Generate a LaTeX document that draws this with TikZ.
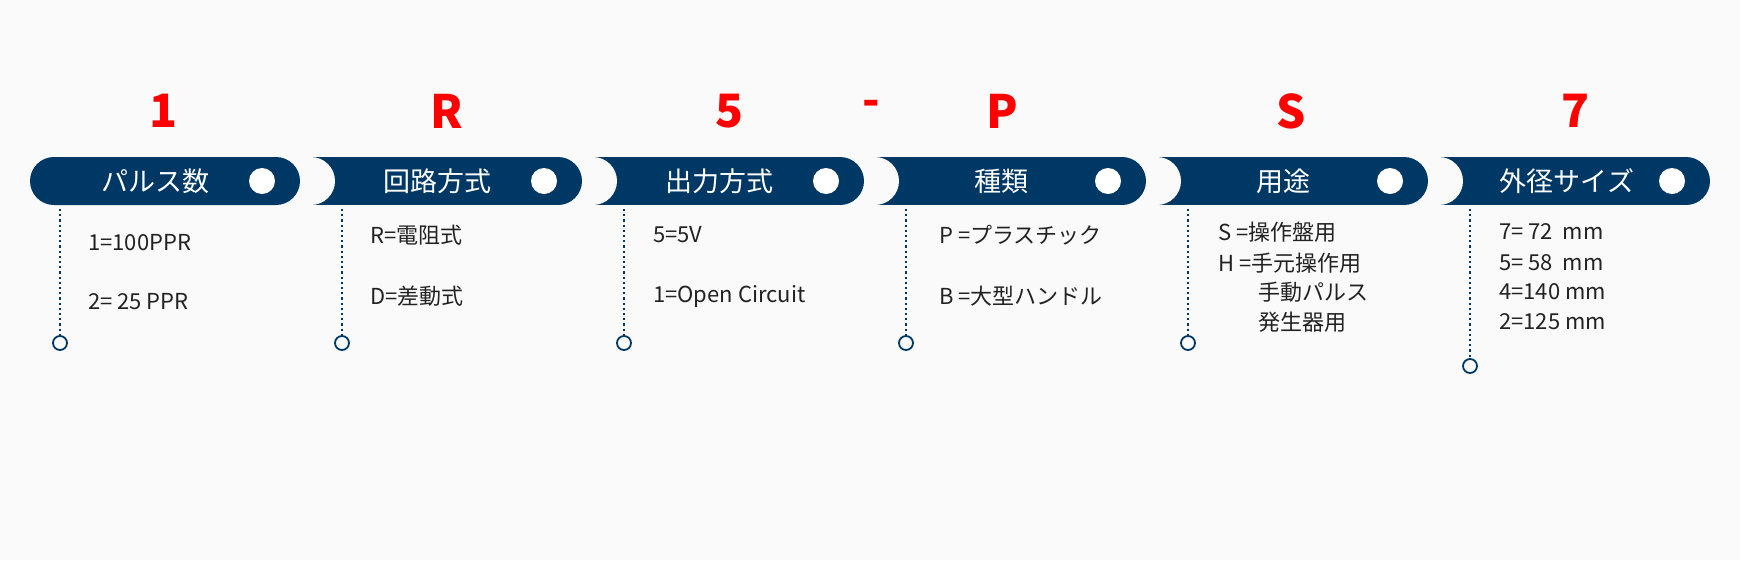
\documentclass[tikz,border=0pt]{standalone}
\usepackage{fontspec}
\setmainfont{Noto Sans CJK JP}
\definecolor{bg}{HTML}{FAFAFA}
\definecolor{navy}{HTML}{003865}
\definecolor{tx}{HTML}{222222}
\begin{document}
\begin{tikzpicture}[x=1pt,y=-1pt,
  red/.style={text=red,font=\fontsize{46}{46}\selectfont\bfseries,inner sep=0},
  lbl/.style={text=white,font=\fontsize{27}{27}\selectfont,inner sep=0},
  item/.style={text=tx,font=\fontsize{22}{24}\selectfont,inner sep=0,anchor=west},
  dotl/.style={draw=navy,line width=1.8pt,dash pattern=on 2.2pt off 3pt},
  endc/.style={circle,draw=navy,line width=1.8pt,fill=bg,minimum size=14pt,inner sep=0}]
\fill[bg] (0,0) rectangle (1740,560);
\useasboundingbox (0,0) rectangle (1740,560);
% pills drawn in reverse order
\foreach \i in {6,5,4,3,2,1}{
  \pgfmathsetmacro\R{300+282*(\i-1)}
  \pgfmathsetmacro\L{\i==1 ? 30 : \R-271}
  \ifnum\i=1
    \fill[navy,rounded corners=24pt] (\L,157) rectangle (\R,205);
  \else
    \fill[navy] (\L+24,157) rectangle (\R-24,205);
    \fill[navy] (\R-24,181) circle (24);
    \fill[navy] (\L,157) rectangle (\L+30,205);
    \fill[bg] (\L,181) circle (24);
  \fi
  \fill[white] (\R-38,181) circle (13);
}
% labels
\node[lbl] (l1) at (155,181) {パルス数};
\node[lbl] (l2) at (437,181) {回路方式};
\node[lbl] (l3) at (719,181) {出力方式};
\node[lbl] (l4) at (1001,181) {種類};
\node[lbl] (l5) at (1283,181) {用途};
\node[lbl] (l6) at (1567,181) {外径サイズ};
% red code letters
\node[red] (r1) at (164,111) {1};
\node[red] (r2) at (447,111) {R};
\node[red] (r3) at (729,111) {5};
\node[red] (rd) at (871,108) {-};
\node[red] (r4) at (1002,111) {P};
\node[red] (r5) at (1291,111) {S};
\node[red] (r6) at (1575,111) {7};
% dotted leaders
\foreach \x/\y/\n in {60/343/1,342/343/2,624/343/3,906/343/4,1188/343/5,1470/366/6}{
  \coordinate (t\n) at (\x,209);
  \node[endc] (c\n) at (\x,\y) {};
  \draw[dotl] (t\n) -- (c\n.north);
}
% items
\node[item] (a1) at (88,243) {1=100PPR};
\node[item] (b1) at (88,302) {2= 25 PPR};
\node[item] (a2) at (370,235) {R=電阻式};
\node[item] (b2) at (370,296) {D=差動式};
\node[item] (a3) at (653,235) {5=5V};
\node[item] (b3) at (653,296) {1=Open Circuit};
\node[item] (a4) at (939,235) {P =プラスチック};
\node[item] (b4) at (939,296) {B =大型ハンドル};
\node[item] (a5) at (1218,232) {S =操作盤用};
\node[item] (b5) at (1218,263) {H =手元操作用};
\node[item] (c5) at (1258,292) {手動パルス};
\node[item] (d5) at (1258,322) {発生器用};
\node[item] (a6) at (1499,232) {7= 72\ \ mm};
\node[item] (b6) at (1499,263) {5= 58\ \ mm};
\node[item] (c6) at (1499,292) {4=140 mm};
\node[item] (d6) at (1499,322) {2=125 mm};
\end{tikzpicture}
\end{document}
